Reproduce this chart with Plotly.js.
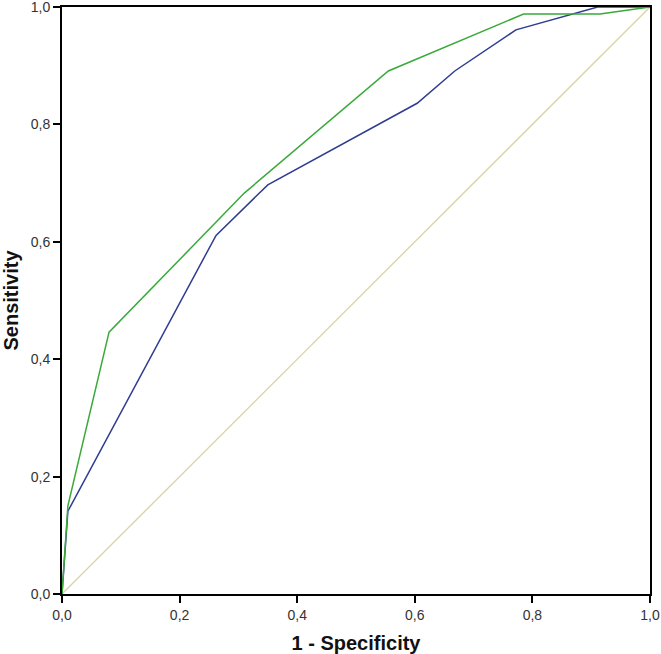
<!DOCTYPE html>
<html>
<head>
<meta charset="utf-8">
<script src="https://cdn.plot.ly/plotly-3.0.1.min.js"></script>
<style>html,body{margin:0;padding:0;background:#fff;}#chart{width:661px;height:654px;}</style>
</head>
<body>
<div id="chart"></div>
<script>
const greenX = [0, 0.01, 0.08, 0.31, 0.555, 0.785, 0.915, 1.0];
const greenY = [0, 0.15, 0.446, 0.683, 0.891, 0.988, 0.988, 1.0];
const blueX = [0, 0.01, 0.262, 0.35, 0.604, 0.668, 0.772, 0.911, 1.0];
const blueY = [0, 0.141, 0.611, 0.697, 0.836, 0.891, 0.961, 1.0, 1.0];
const refX = [0, 1];
const refY = [0, 1];
const tickVals = [0, 0.2, 0.4, 0.6, 0.8, 1.0];

const traces = [
  {x: refX, y: refY, mode: 'lines', line: {color: '#d9d2a6', width: 1.3}, hoverinfo: 'skip'},
  {x: blueX, y: blueY, mode: 'lines', line: {color: '#2e3d91', width: 1.5}},
  {x: greenX, y: greenY, mode: 'lines', line: {color: '#3aa93a', width: 1.5}}
];

const axisCommon = {
  range: [0, 1],
  tickvals: tickVals,
  tickformat: '.1f',
  ticks: 'outside',
  ticklen: 7,
  tickwidth: 2,
  tickcolor: '#000',
  showline: true,
  linecolor: '#000',
  linewidth: 2,
  mirror: true,
  showgrid: false,
  zeroline: false,
  ticklabeloverflow: 'allow',
  tickfont: {family: 'Liberation Sans, Arial, sans-serif', size: 14, color: '#333'}
};

const titleFont = {family: 'Liberation Sans, Arial, sans-serif', size: 20, color: '#111', weight: 'bold'};

const layout = {
  width: 661, height: 654,
  margin: {l: 62, r: 11, t: 7, b: 60},
  separators: ',.',
  showlegend: false,
  paper_bgcolor: '#fff',
  plot_bgcolor: '#fff',
  xaxis: Object.assign({}, axisCommon, {
    title: {text: '1 - Specificity', font: titleFont, standoff: 14}
  }),
  yaxis: Object.assign({}, axisCommon, {
    title: {text: 'Sensitivity', font: titleFont, standoff: 10}
  })
};

Plotly.newPlot('chart', traces, layout, {displayModeBar: false, staticPlot: true});
</script>
</body>
</html>
